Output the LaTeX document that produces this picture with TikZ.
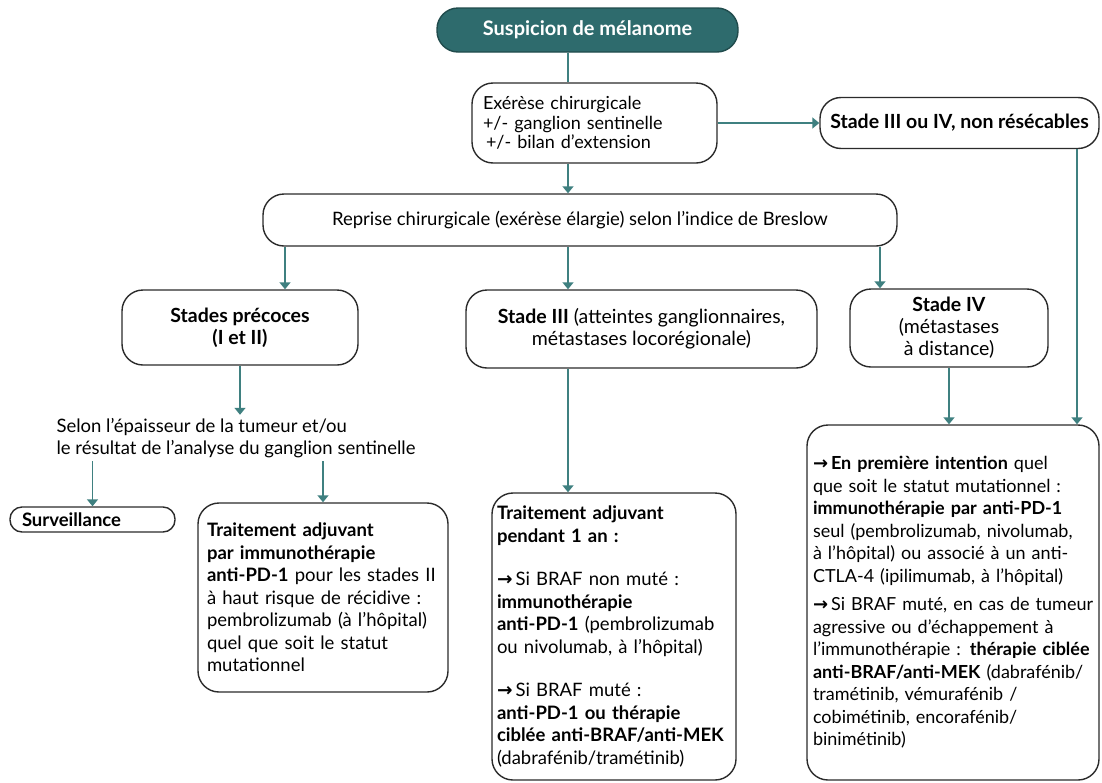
\documentclass[tikz,border=0pt]{standalone}
\usepackage{fontspec}
\setmainfont{Lato}
\newfontfamily\flechefont{DejaVu Sans}
\usetikzlibrary{arrows.meta}
\definecolor{sarcelle}{HTML}{2E6B6D}
\definecolor{trait}{HTML}{3F8080}
\definecolor{bord}{HTML}{2B2B2B}
\begin{document}
\begin{tikzpicture}[x=1pt,y=1pt,font=\fontsize{18.5}{22.5}\selectfont,
  boite/.style={draw=bord,line width=1.4pt,rounded corners=21pt,fill=white,inner sep=0pt},
  stade/.style={boite,align=center,font=\fontsize{19.5}{22}\selectfont},
  texte/.style={boite,align=left,inner xsep=9pt},
  fleche/.style={draw=trait,line width=1.4pt,-{Triangle[width=11pt,length=7pt]}},
  lien/.style={draw=trait,line width=1.4pt}]
\useasboundingbox (0,0) rectangle (1102,-782);
\def\fl{{\flechefont\bfseries →}\,}
\node[boite,fill=sarcelle,draw=sarcelle!70!black,rounded corners=21pt,minimum width=301pt,minimum height=44pt,
  text=white,font=\fontsize{20}{24}\selectfont\bfseries] (suspicion) at (587.5,-30) {Suspicion de mélanome};
\node[texte,inner xsep=11pt,text width=223pt,minimum height=80pt,font=\fontsize{18}{19.5}\selectfont] (exerese) at (594.5,-123)
  {Exérèse chirurgicale\\+/- ganglion sentinelle\\\,+/- bilan d’extension};
\node[stade,minimum width=279pt,minimum height=51pt,font=\fontsize{19.5}{22}\selectfont\bfseries] (stade34) at (959.5,-123)
  {Stade III ou IV, non résécables};
\node[boite,minimum width=634pt,minimum height=52pt] (breslow) at (580,-220)
  {Reprise chirurgicale (exérèse élargie) selon l’indice de Breslow};
\node[stade,minimum width=236pt,minimum height=75pt,font=\fontsize{19.5}{22}\selectfont\bfseries] (precoces) at (240,-327.5)
  {Stades précoces\\(I et II)};
\node[stade,minimum width=351pt,minimum height=78pt] (stade3) at (641.5,-329)
  {\textbf{Stade III} (atteintes ganglionnaires,\\métastases locorégionale)};
\node[stade,minimum width=198pt,minimum height=78pt] (stade4) at (949,-328)
  {\textbf{Stade IV}\\(métastases\\à distance)};
\node[align=left,inner sep=3pt] (selon) at (236,-438)
  {Selon l’épaisseur de la tumeur et/ou\\le résultat de l’analyse du ganglion sentinelle};
\node[texte,rounded corners=12pt,inner xsep=12pt,text width=141pt,minimum height=25pt,font=\fontsize{18.5}{22}\selectfont\bfseries] (surveillance) at (92.5,-519.5)
  {Surveillance};
\node[texte,text width=232pt,minimum height=189pt] (adjuvant2) at (323,-597.5)
  {\textbf{Traitement adjuvant}\\
   \textbf{par immunothérapie}\\
   \textbf{anti-PD-1} pour les stades II\\
   à haut risque de récidive~:\\
   pembrolizumab (à l’hôpital)\\
   quel que soit le statut\\
   mutationnel};
\node[texte,inner xsep=5pt,text width=234pt,minimum height=287pt] (adjuvant3) at (614,-636.5)
  {\textbf{Traitement adjuvant}\\
   \textbf{pendant 1 an~:}\\[21pt]
   \fl Si BRAF non muté~:\\
   \textbf{immunothérapie}\\
   \textbf{anti-PD-1} (pembrolizumab\\
   ou nivolumab, à l’hôpital)\\[21pt]
   \fl Si BRAF muté~:\\
   \textbf{anti-PD-1 ou thérapie}\\
   \textbf{ciblée anti-BRAF/anti-MEK}\\
   (dabrafénib/tramétinib)};
\node[texte,inner xsep=6pt,text width=280pt,minimum height=355pt,font=\fontsize{18}{22.5}\selectfont] (premiere) at (953,-602.5)
  {\mbox{\fl\textbf{En première intention} quel}\\
   que soit le statut mutationnel~:\\
   \textbf{immunothérapie par anti-PD-1}\\
   \mbox{seul (pembrolizumab, nivolumab,}\\
   \mbox{à l’hôpital) ou associé à un anti-}\\
   \mbox{CTLA-4 (ipilimumab, à l’hôpital)}\\[6pt]
   \mbox{\fl Si BRAF muté, en cas de tumeur}\\
   agressive ou d’échappement à\\
   \mbox{l’immunothérapie~: \textbf{thérapie ciblée}}\\
   \mbox{\textbf{anti-BRAF/anti-MEK} (dabrafénib/}\\
   tramétinib, vémurafénib /\\
   cobimétinib, encorafénib/\\
   binimétinib)};
\draw[lien] (suspicion.south -| 568,0) -- (exerese.north -| 568,0);
\draw[fleche] (exerese.east) -- (stade34.west);
\draw[fleche] (exerese.south -| 568,0) -- (breslow.north -| 568,0);
\foreach \n/\x in {precoces/285,stade3/568,stade4/880}
  \draw[fleche] (breslow.south -| \x,0) -- (\n.north -| \x,0);
\draw[fleche] (stade34.south -| 1077,0) -- (premiere.north -| 1077,0);
\draw[fleche] (precoces.south) -- (selon.north -| precoces.south);
\draw[fleche] (selon.south -| surveillance.north) -- (surveillance.north);
\draw[fleche] (selon.south -| adjuvant2.north) -- (adjuvant2.north);
\draw[fleche] (stade3.south -| 568,0) -- (adjuvant3.north -| 568,0);
\draw[fleche] (stade4.south) -- (premiere.north -| stade4.south);
\end{tikzpicture}
\end{document}
